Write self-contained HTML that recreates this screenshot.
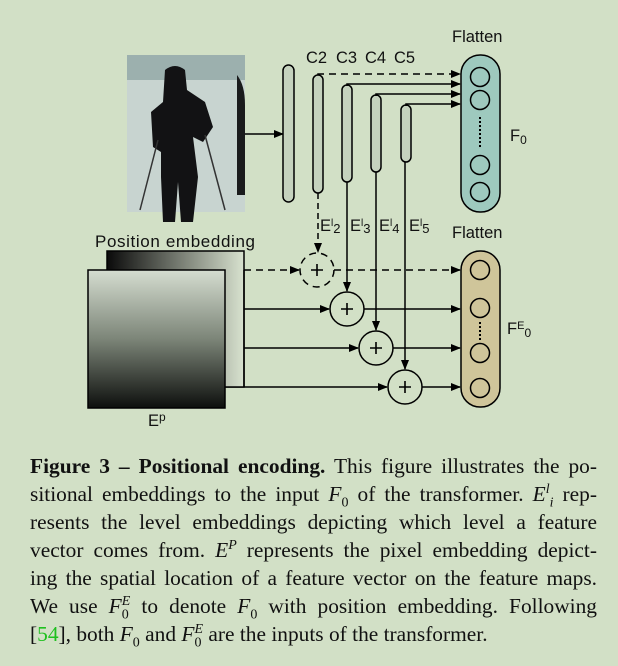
<!DOCTYPE html>
<html><head><meta charset="utf-8"><style>
html,body{margin:0;padding:0;background:#d2e0c6;}
body{width:618px;height:666px;position:relative;overflow:hidden;}
svg{position:absolute;left:0;top:0;}
.cap{position:absolute;left:30px;width:567px;font-family:"Liberation Serif",serif;font-size:21.4px;color:#111;}
.ln{position:absolute;left:0;width:567px;text-align:justify;text-align-last:justify;white-space:nowrap;line-height:22px;}
.ln.last{text-align-last:left}
i{font-style:italic}
sub,sup{font-size:14px;line-height:0}
</style></head><body>
<svg width="618" height="450" viewBox="0 0 618 450" font-family="Liberation Sans, sans-serif">
<defs>
<marker id="ah" markerWidth="10" markerHeight="8" refX="9" refY="4" orient="auto" markerUnits="userSpaceOnUse"><path d="M0,0 L10,4 L0,8 z" fill="#000"/></marker>
<linearGradient id="g1" x1="0" x2="1"><stop offset="0" stop-color="#0a0a0a"/><stop offset="1" stop-color="#d8e2cf"/></linearGradient>
<linearGradient id="g2" x1="0" y1="0" x2="0" y2="1"><stop offset="0" stop-color="#d5ddd0"/><stop offset="0.5" stop-color="#7c8578"/><stop offset="1" stop-color="#0d0f0d"/></linearGradient>
</defs>
<rect x="127" y="55" width="118" height="157" fill="#c8d4d0"/>
<rect x="127" y="55" width="118" height="25" fill="#9cb0ae"/>
<path d="M165,70 q10,-8 20,0 l2,20 l18,12 l8,25 l-10,15 l-10,-5 l5,40 l-5,45 l-12,0 l-3,-40 l-3,40 l-12,0 l-2,-45 l0,-25 l-8,-5 l-2,-35 l12,-10z" fill="#121214"/>
<path d="M237,75 q8,10 8,30 v90 h-8 z" fill="#1a1b1c"/>
<line x1="158" y1="140" x2="140" y2="210" stroke="#333" stroke-width="1.5"/>
<line x1="205" y1="135" x2="225" y2="210" stroke="#333" stroke-width="1.5"/>
<line x1="245" y1="134" x2="283" y2="134" stroke="#000" stroke-width="1.5" marker-end="url(#ah)"/>
<g fill="#c5d2be" stroke="#000" stroke-width="1.5">
<rect x="283" y="65" width="11" height="137" rx="5.5"/>
<rect x="313" y="75" width="10" height="118" rx="5"/>
<rect x="342" y="85" width="10" height="97" rx="5"/>
<rect x="371" y="95" width="10" height="77" rx="5"/>
<rect x="401" y="105" width="10" height="57" rx="5"/>
</g>
<g font-size="16.5" fill="#111">
<text x="306" y="63">C2</text><text x="336" y="63">C3</text><text x="365" y="63">C4</text><text x="394" y="63">C5</text>
<text x="452" y="42">Flatten</text><text x="452" y="238">Flatten</text>
<text x="510" y="141">F<tspan font-size="12" dy="3">0</tspan></text>
<text x="507" y="334">F<tspan font-size="11" dy="-5">E</tspan><tspan font-size="12" dy="8">0</tspan></text>
<text x="95" y="247" textLength="160" font-size="17">Position embedding</text>
<text x="148" y="426">E<tspan font-size="12" dy="-5">p</tspan></text>
<text x="320" y="231">E<tspan font-size="10" dy="-5">l</tspan><tspan font-size="13" dy="7">2</tspan></text>
<text x="350" y="231">E<tspan font-size="10" dy="-5">l</tspan><tspan font-size="13" dy="7">3</tspan></text>
<text x="379" y="231">E<tspan font-size="10" dy="-5">l</tspan><tspan font-size="13" dy="7">4</tspan></text>
<text x="409" y="231">E<tspan font-size="10" dy="-5">l</tspan><tspan font-size="13" dy="7">5</tspan></text>
</g>
<rect x="461" y="55" width="39" height="157" rx="19" fill="#9ec9be" stroke="#000" stroke-width="1.5"/>
<rect x="461" y="251" width="39" height="156" rx="19" fill="#cfc59a" stroke="#000" stroke-width="1.5"/>
<g fill="none" stroke="#000" stroke-width="1.5">
<circle cx="480" cy="77" r="9.5"/><circle cx="480" cy="100" r="9.5"/><circle cx="480" cy="165" r="9.5"/><circle cx="480" cy="192" r="9.5"/>
<circle cx="480" cy="270" r="9.5"/><circle cx="480" cy="308" r="9.5"/><circle cx="480" cy="353" r="9.5"/><circle cx="480" cy="388" r="9.5"/>
<line x1="480" y1="117" x2="480" y2="148" stroke-width="2" stroke-dasharray="2 2"/>
<line x1="480" y1="322" x2="480" y2="340" stroke-width="2" stroke-dasharray="2 2"/>
<path d="M318,75 V74 H460" stroke-dasharray="7 5" marker-end="url(#ah)"/>
<path d="M347,86 V84 H460" marker-end="url(#ah)"/>
<path d="M376,96 V94 H460" marker-end="url(#ah)"/>
<path d="M406,106 V104 H460" marker-end="url(#ah)"/>
<line x1="318" y1="193" x2="318" y2="252" stroke-dasharray="6 4" marker-end="url(#ah)"/>
<line x1="347" y1="182" x2="347" y2="291" marker-end="url(#ah)"/>
<line x1="376" y1="172" x2="376" y2="330" marker-end="url(#ah)"/>
<line x1="405" y1="162" x2="405" y2="369" marker-end="url(#ah)"/>
<circle cx="317" cy="270" r="17" stroke-dasharray="7 5"/>
<circle cx="347" cy="309" r="17"/><circle cx="376" cy="348" r="17"/><circle cx="405" cy="387" r="17"/>
<line x1="244" y1="270" x2="299" y2="270" stroke-dasharray="7 5" marker-end="url(#ah)"/>
<line x1="334" y1="270" x2="460" y2="270" stroke-dasharray="7 5" marker-end="url(#ah)"/>
<line x1="244" y1="309" x2="329" y2="309" marker-end="url(#ah)"/>
<line x1="364" y1="309" x2="460" y2="309" marker-end="url(#ah)"/>
<line x1="244" y1="348" x2="358" y2="348" marker-end="url(#ah)"/>
<line x1="393" y1="348" x2="460" y2="348" marker-end="url(#ah)"/>
<line x1="225" y1="387" x2="387" y2="387" marker-end="url(#ah)"/>
<line x1="422" y1="387" x2="460" y2="387" marker-end="url(#ah)"/>
</g>
<g stroke="#000" stroke-width="1.6">
<path d="M311,270 h12 M317,264 v12"/><path d="M341,309 h12 M347,303 v12"/><path d="M370,348 h12 M376,342 v12"/><path d="M399,387 h12 M405,381 v12"/>
</g>
<rect x="107" y="251" width="137" height="136" fill="url(#g1)" stroke="#000" stroke-width="1.5"/>
<rect x="88" y="270" width="137" height="138" fill="url(#g2)" stroke="#000" stroke-width="1.5"/>
<line x1="244" y1="270" x2="244" y2="387" stroke="#000" stroke-width="1.5"/>
</svg>
<div class="cap">
<div class="ln" style="top:455px"><b>Figure 3 – Positional encoding.</b> This figure illustrates the po-</div>
<div class="ln" style="top:483px">sitional embeddings to the input <i>F</i><sub>0</sub> of the transformer. <i>E<sup>l</sup><sub>i</sub></i> rep-</div>
<div class="ln" style="top:511px">resents the level embeddings depicting which level a feature</div>
<div class="ln" style="top:539px">vector comes from. <i>E<sup>P</sup></i> represents the pixel embedding depict-</div>
<div class="ln" style="top:567px">ing the spatial location of a feature vector on the feature maps.</div>
<div class="ln" style="top:595px">We use <i>F</i><sub>0</sub><sup style="margin-left:-7px"><i>E</i></sup> to denote <i>F</i><sub>0</sub> with position embedding. Following</div>
<div class="ln last" style="top:623px">[<span style="color:#1ec01e">54</span>], both <i>F</i><sub>0</sub> and <i>F</i><sub>0</sub><sup style="margin-left:-7px"><i>E</i></sup> are the inputs of the transformer.</div>
</div>
</body></html>
